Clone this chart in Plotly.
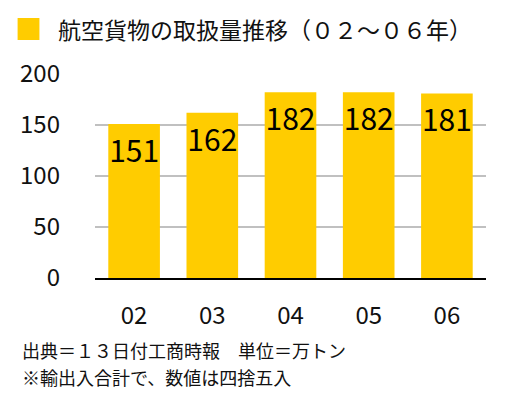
import plotly.graph_objects as go

years = ["02", "03", "04", "05", "06"]
volumes = [151, 162, 182, 182, 181]
y_ticks = [0, 50, 100, 150, 200]

title_text = "航空貨物の取扱量推移（０２～０６年）"
note1 = "出典＝１３日付工商時報　単位＝万トン"
note2 = "※輸出入合計で、数値は四捨五入"

FONT = "Noto Sans CJK JP"
YELLOW = "#FFCC00"
PH = 204.0  # plot height in px
PW = 394.0

fig = go.Figure(go.Bar(
    x=years, y=volumes,
    marker=dict(color=YELLOW, line=dict(width=0)),
    text=[str(v) for v in volumes],
    textposition="inside",
    insidetextanchor="end",
    textangle=0,
    constraintext="none",
    textfont=dict(family=FONT, size=30, color="black"),
    width=0.66,
))

fig.update_layout(
    width=509, height=385,
    margin=dict(l=84, r=31, t=66, b=115, pad=0),
    paper_bgcolor="white", plot_bgcolor="white",
    showlegend=False,
    font=dict(family=FONT, color="#111"),
    bargap=0.34,
)
fig.update_yaxes(
    range=[0, 200], tickvals=y_ticks, ticktext=[str(t) for t in y_ticks],
    showgrid=True, gridcolor="#c0c0c0", gridwidth=2,
    zeroline=False, showline=False,
    tickfont=dict(family=FONT, size=24, color="#111"),
    ticklabelstandoff=34,
)
fig.update_xaxes(
    showline=True, linecolor="black", linewidth=2,
    showgrid=False,
    tickfont=dict(family=FONT, size=24, color="#111"),
    ticklabelstandoff=15,
)

fig.add_shape(type="rect", xref="paper", yref="paper",
              x0=-78/PW, x1=-56/PW, y0=1 + 34/PH, y1=1 + 56/PH,
              fillcolor=YELLOW, line=dict(width=0))
fig.add_annotation(text=title_text, xref="paper", yref="paper",
                   x=-39/PW, y=1 + 45/PH, xanchor="left", yanchor="middle",
                   showarrow=False, font=dict(family=FONT, size=23, color="#111"))
fig.add_annotation(text=note1, xref="paper", yref="paper",
                   x=-76/PW, y=-72/PH, xanchor="left", yanchor="middle",
                   showarrow=False, font=dict(family=FONT, size=18, color="#111"))
fig.add_annotation(text=note2, xref="paper", yref="paper",
                   x=-76/PW, y=-99/PH, xanchor="left", yanchor="middle",
                   showarrow=False, font=dict(family=FONT, size=18, color="#111"))

fig.write_html("out.html")
